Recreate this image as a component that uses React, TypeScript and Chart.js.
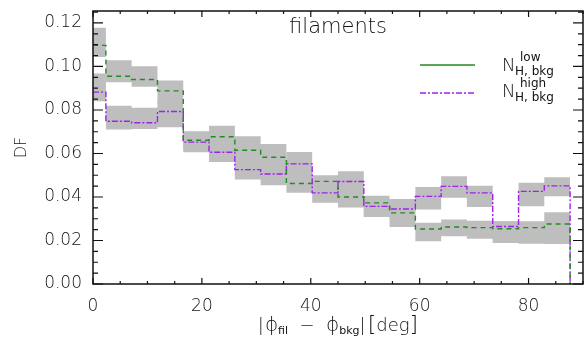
import React, { useEffect, useRef } from "react";
import { Chart, registerables } from "chart.js";

Chart.register(...registerables);

// Angle bins (deg): 19 bins of 90/19 deg, the first one half-width starting at 0
const binCenters = [
  0, 4.74, 9.47, 14.21, 18.95, 23.68, 28.42, 33.16, 37.89, 42.63,
  47.37, 52.11, 56.84, 61.58, 66.32, 71.05, 75.79, 80.53, 85.26,
];

// Distribution function, low background column density
const dfLow = [
  0.1097, 0.0955, 0.094, 0.0888, 0.0661, 0.0677, 0.0615, 0.0583, 0.0462, 0.0472,
  0.04, 0.0373, 0.0327, 0.0253, 0.0262, 0.0259, 0.0254, 0.0259, 0.0276,
];
const dfLowUpper = [
  0.1178, 0.1029, 0.1001, 0.0936, 0.0702, 0.0728, 0.0679, 0.0644, 0.051, 0.05,
  0.044, 0.0406, 0.036, 0.0281, 0.0296, 0.0291, 0.0288, 0.0288, 0.033,
];
const dfLowLower = [
  0.1044, 0.0928, 0.0907, 0.083, 0.0615, 0.062, 0.055, 0.053, 0.0419, 0.043,
  0.0352, 0.0308, 0.0262, 0.0196, 0.0219, 0.0208, 0.0189, 0.0185, 0.0184,
];

// Distribution function, high background column density
const dfHigh = [
  0.0882, 0.0748, 0.0741, 0.0793, 0.0652, 0.0606, 0.0526, 0.0506, 0.0552, 0.0419,
  0.0471, 0.0357, 0.0345, 0.0403, 0.0449, 0.0419, 0.0264, 0.0426, 0.0451,
];
const dfHighUpper = [
  0.0968, 0.082, 0.081, 0.085, 0.069, 0.065, 0.057, 0.055, 0.0607, 0.046,
  0.0518, 0.039, 0.0391, 0.0446, 0.0495, 0.0452, 0.0288, 0.0465, 0.0491,
];
const dfHighLower = [
  0.084, 0.071, 0.0713, 0.0721, 0.0606, 0.0561, 0.048, 0.0454, 0.05, 0.0373,
  0.042, 0.0308, 0.03, 0.0342, 0.0396, 0.0354, 0.02, 0.0357, 0.0403,
];

const xMajorTicks = [0, 20, 40, 60, 80];
const yMajorTicks = [0, 0.02, 0.04, 0.06, 0.08, 0.1, 0.12];
const xMinorStep = 5;
const yMinorStep = 0.005;
const X_MIN = 0;
const X_MAX = 90;
const Y_MIN = 0;
const Y_MAX = 0.1255;

const BAND_GRAY = "#bebebe";
const LOW_GREEN = "#228b22";
const HIGH_PURPLE = "#a020f0";
const INK = "#111111";
const FONT = "'DejaVu Sans', 'Liberation Sans', sans-serif";
const W = "200";

const halfBin = (binCenters[1] - binCenters[0]) / 2;
const histEnd = binCenters[binCenters.length - 1] + halfBin;

// Histogram outline: one point per bin at its left edge; each level runs
// horizontally to the next point before stepping.
function stepPoints(values: number[], dropToZero: boolean) {
  const pts = values.map((v, i) => ({ x: Math.max(X_MIN, binCenters[i] - halfBin), y: v }));
  pts.push({ x: histEnd, y: dropToZero ? 0 : values[values.length - 1] });
  return pts;
}

function bandDataset(values: number[], fill: string | boolean) {
  return {
    data: stepPoints(values, false),
    stepped: "before" as const,
    borderWidth: 0,
    borderColor: "rgba(0,0,0,0)",
    backgroundColor: BAND_GRAY,
    pointRadius: 0,
    fill,
  };
}

function drawSegments(
  ctx: CanvasRenderingContext2D,
  segs: { t: string; font: string; dy?: number; gap?: number }[],
  cx: number,
  baseline: number
) {
  let total = 0;
  for (const s of segs) {
    ctx.font = s.font;
    total += ctx.measureText(s.t).width + (s.gap || 0);
  }
  let x = cx - total / 2;
  ctx.textAlign = "left";
  ctx.textBaseline = "alphabetic";
  for (const s of segs) {
    ctx.font = s.font;
    ctx.fillText(s.t, x, baseline + (s.dy || 0));
    x += ctx.measureText(s.t).width + (s.gap || 0);
  }
}

const decorations = {
  id: "decorations",
  afterDatasetsDraw(chart: any) {
    const { ctx, chartArea: a, scales } = chart;
    const xs = scales.x;
    const ys = scales.y;
    ctx.save();
    ctx.strokeStyle = INK;
    ctx.fillStyle = INK;

    // frame
    ctx.lineWidth = 1.5;
    ctx.strokeRect(a.left, a.top, a.right - a.left, a.bottom - a.top);

    // inward ticks on all four sides
    ctx.lineWidth = 1.2;
    ctx.beginPath();
    for (let v = X_MIN; v <= X_MAX + 1e-9; v += xMinorStep) {
      const major = xMajorTicks.some((t) => Math.abs(t - v) < 1e-9);
      const len = major ? 6 : 3;
      const px = xs.getPixelForValue(v);
      ctx.moveTo(px, a.bottom);
      ctx.lineTo(px, a.bottom - len);
      ctx.moveTo(px, a.top);
      ctx.lineTo(px, a.top + len);
    }
    for (let v = Y_MIN; v <= Y_MAX + 1e-9; v += yMinorStep) {
      const major = yMajorTicks.some((t) => Math.abs(t - v) < 1e-9);
      const len = major ? 10 : 5;
      const py = ys.getPixelForValue(v);
      ctx.moveTo(a.left, py);
      ctx.lineTo(a.left + len, py);
      ctx.moveTo(a.right, py);
      ctx.lineTo(a.right - len, py);
    }
    ctx.stroke();

    // panel label
    ctx.font = `${W} 21px ${FONT}`;
    ctx.textAlign = "center";
    ctx.textBaseline = "alphabetic";
    ctx.fillText("filaments", (a.left + a.right) / 2, a.top + 22);

    // legend
    const lx0 = a.left + 327;
    const lx1 = a.left + 382;
    const ly1 = a.top + 54;
    const ly2 = a.top + 82;
    ctx.lineWidth = 1.3;
    ctx.strokeStyle = LOW_GREEN;
    ctx.setLineDash([]);
    ctx.beginPath();
    ctx.moveTo(lx0, ly1);
    ctx.lineTo(lx1, ly1);
    ctx.stroke();
    ctx.strokeStyle = HIGH_PURPLE;
    ctx.setLineDash([6, 2, 2, 2]);
    ctx.beginPath();
    ctx.moveTo(lx0, ly2);
    ctx.lineTo(lx1, ly2);
    ctx.stroke();
    ctx.setLineDash([]);

    const tx = a.left + 409;
    ctx.textAlign = "left";
    ctx.fillStyle = INK;
    const rows: [string, number][] = [
      ["low", a.top + 59.5],
      ["high", a.top + 86],
    ];
    for (const [sup, base] of rows) {
      ctx.font = `${W} 18px ${FONT}`;
      ctx.fillText("N", tx, base);
      ctx.font = `12px ${FONT}`;
      ctx.fillText(sup, tx + 18, base - 10);
      ctx.fillText("H, bkg", tx + 13, base + 4);
    }

    // y title
    ctx.save();
    ctx.translate(22, (a.top + a.bottom) / 2);
    ctx.rotate(-Math.PI / 2);
    ctx.font = `${W} 16px ${FONT}`;
    ctx.textAlign = "center";
    ctx.textBaseline = "middle";
    ctx.fillText("DF", 0, 0);
    ctx.restore();

    // x title
    const main = `${W} 18px ${FONT}`;
    const phi = `${W} 20px ${FONT}`;
    const sub = `11px ${FONT}`;
    drawSegments(
      ctx,
      [
        { t: "|", font: main, gap: 1 },
        { t: "ϕ", font: phi },
        { t: "fil", font: sub, dy: 3 },
        { t: "  −  ", font: main },
        { t: "ϕ", font: phi },
        { t: "bkg", font: sub, dy: 3 },
        { t: "|", font: main, gap: 2 },
        { t: "[", font: `${W} 22px ${FONT}` },
        { t: "deg", font: main },
        { t: "]", font: `${W} 22px ${FONT}` },
      ],
      (a.left + a.right) / 2,
      a.bottom + 47
    );
    ctx.restore();
  },
};

export default function App() {
  const ref = useRef<HTMLCanvasElement | null>(null);

  useEffect(() => {
    if (!ref.current) return;
    const chart = new Chart(ref.current, {
      type: "line",
      data: {
        datasets: [
          bandDataset(dfLowUpper, "+1"),
          bandDataset(dfLowLower, false),
          bandDataset(dfHighUpper, "+1"),
          bandDataset(dfHighLower, false),
          {
            data: stepPoints(dfLow, true),
            stepped: "before",
            borderColor: LOW_GREEN,
            borderWidth: 1.4,
            borderDash: [5, 4],
            pointRadius: 0,
            fill: false,
          },
          {
            data: stepPoints(dfHigh, true),
            stepped: "before",
            borderColor: HIGH_PURPLE,
            borderWidth: 1.4,
            borderDash: [6, 2, 2, 2],
            pointRadius: 0,
            fill: false,
          },
        ] as any,
      },
      options: {
        animation: false,
        responsive: false,
        events: [],
        layout: { padding: { top: 11, right: 1, left: 0, bottom: 0 } },
        plugins: {
          legend: { display: false },
          tooltip: { enabled: false },
          filler: { drawTime: "beforeDatasetsDraw" },
        } as any,
        scales: {
          x: {
            type: "linear",
            min: X_MIN,
            max: X_MAX,
            grid: { display: false, drawTicks: false },
            border: { display: false },
            afterBuildTicks: (s: any) => {
              s.ticks = xMajorTicks.map((v) => ({ value: v }));
            },
            afterFit: (s: any) => {
              s.height = 57;
              s.paddingLeft = 0;
              s.paddingRight = 0;
            },
            ticks: {
              padding: 12,
              maxRotation: 0,
              color: INK,
              font: { family: FONT, size: 17, weight: W },
              callback: (v: any) => String(v),
            },
          },
          y: {
            type: "linear",
            min: Y_MIN,
            max: Y_MAX,
            grid: { display: false, drawTicks: false },
            border: { display: false },
            afterBuildTicks: (s: any) => {
              s.ticks = yMajorTicks.map((v) => ({ value: v }));
            },
            afterFit: (s: any) => {
              s.width = 93;
              s.paddingTop = 0;
              s.paddingBottom = 0;
            },
            ticks: {
              padding: 11,
              color: INK,
              font: { family: FONT, size: 17, weight: W },
              callback: (v: any) => Number(v).toFixed(2),
            },
          },
        },
      },
      plugins: [decorations],
    });
    return () => chart.destroy();
  }, []);

  return (
    <div style={{ position: "fixed", left: 0, top: 0, width: 584, height: 341, background: "#fff" }}>
      <canvas ref={ref} width={584} height={341} style={{ width: 584, height: 341 }} />
    </div>
  );
}
